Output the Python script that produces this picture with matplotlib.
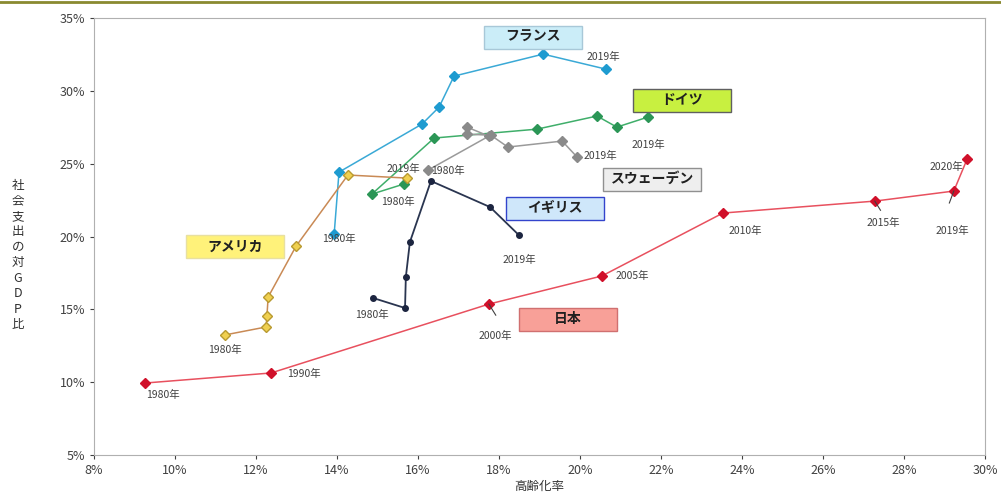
import matplotlib.pyplot as plt
from matplotlib.patches import Rectangle
from matplotlib.ticker import FuncFormatter

plt.rcParams['font.family'] = ['Noto Sans CJK JP', 'DejaVu Sans']

# 高齢化率 (x) / 社会支出の対GDP比 (y), in %
japan_x = [9.26, 12.37, 17.75, 20.54, 23.53, 27.28, 29.23, 29.56]
japan_y = [9.94, 10.63, 15.36, 17.29, 21.61, 22.43, 23.12, 25.32]

usa_x = [11.23, 12.25, 12.27, 12.30, 12.99, 14.27, 15.73]
usa_y = [13.24, 13.79, 14.54, 15.84, 19.34, 24.22, 24.01]

france_x = [13.93, 14.05, 16.10, 16.52, 16.89, 19.09, 20.64]
france_y = [20.17, 24.42, 27.72, 28.88, 31.01, 32.52, 31.49]

germany_x = [15.65, 14.86, 16.40, 18.94, 20.42, 20.91, 21.68]
germany_y = [23.60, 22.91, 26.76, 27.37, 28.27, 27.51, 28.20]

sweden_x = [16.25, 17.75, 17.21, 17.21, 17.80, 18.22, 19.56, 19.93]
sweden_y = [24.56, 26.89, 27.51, 27.03, 26.95, 26.14, 26.55, 25.45]

uk_x = [14.89, 15.68, 15.70, 15.80, 16.32, 17.78, 18.49]
uk_y = [15.78, 15.09, 17.22, 19.62, 23.81, 22.02, 20.10]

x_ticks = list(range(8, 31, 2))
y_ticks = list(range(5, 36, 5))

fig = plt.figure(figsize=(10.01, 5.0), dpi=100)
ax = fig.add_axes([0.0939, 0.09, 0.8901, 0.874])

# country lines
ax.plot(france_x, france_y, '-D', color='#3aa9d6', mfc='#1e9bd0', mec='#1e9bd0', ms=5, lw=1.1)
ax.plot(germany_x, germany_y, '-D', color='#3fae6a', mfc='#2b9656', mec='#2b9656', ms=5, lw=1.1)
ax.plot(sweden_x, sweden_y, '-D', color='#9a9a9a', mfc='#8a8a8a', mec='#8a8a8a', ms=5, lw=1.1)
ax.plot(uk_x, uk_y, '-o', color='#2a3550', mfc='#1c2540', mec='#1c2540', ms=4, lw=1.3)
ax.plot(usa_x, usa_y, '-D', color='#c98a55', mfc='#f0d050', mec='#b89a30', ms=5, lw=1.1)
ax.plot(japan_x, japan_y, '-D', color='#e8505e', mfc='#d0102a', mec='#d0102a', ms=5, lw=1.1)

ax.set_xlim(8, 30)
ax.set_ylim(5, 35)
ax.set_xticks(x_ticks)
ax.set_yticks(y_ticks)
pct = FuncFormatter(lambda v, p: '%d%%' % v)
ax.xaxis.set_major_formatter(pct)
ax.yaxis.set_major_formatter(pct)
ax.tick_params(labelsize=9, colors='#404040', length=3, direction='out')
for s in ax.spines.values():
    s.set_color('#b0b0b0')

ax.set_xlabel('高齢化率', fontsize=9, color='#303030', labelpad=2)
fig.text(0.018, 0.49, '\n'.join('社会支出の対GDP比'), fontsize=9, color='#303030',
         ha='center', va='center', linespacing=1.25)

# year labels
yr = dict(fontsize=7.5, color='#404040', ha='center', va='center')
def lab(x, y, t):
    ax.text(x, y, t, **yr)

lab(9.70, 9.15, '1980年')
lab(13.18, 10.55, '1990年')
lab(17.90, 13.2, '2000年')
lab(21.30, 17.3, '2005年')
lab(24.07, 20.4, '2010年')
lab(27.50, 20.95, '2015年')
lab(29.20, 20.35, '2019年')
lab(29.05, 24.75, '2020年')
lab(11.23, 12.2, '1980年')
lab(15.65, 24.65, '2019年')
lab(14.05, 19.8, '1980年')
lab(20.58, 32.3, '2019年')
lab(15.50, 22.35, '1980年')
lab(21.68, 26.3, '2019年')
lab(16.75, 24.5, '1980年')
lab(20.50, 25.5, '2019年')
lab(14.86, 14.6, '1980年')
lab(18.50, 18.4, '2019年')

# short leader lines from a few Japan labels to their points
for (x0, y0), (x1, y1) in [((17.75, 15.36), (17.92, 14.6)),
                           ((27.28, 22.43), (27.42, 21.8)),
                           ((29.23, 23.12), (29.12, 22.3))]:
    ax.plot([x0, x1], [y0, y1], color='#404040', lw=0.8)

# country name boxes
def box(x, y, t, fc, ec):
    w, h = 2.42, 1.58
    ax.add_patch(Rectangle((x - w / 2, y - h / 2), w, h, fc=fc, ec=ec, lw=1, zorder=4))
    ax.text(x, y, t, fontsize=10, fontweight='bold', color='#202020', ha='center', va='center',
            zorder=5)

box(18.84, 33.69, 'フランス', '#cbedf8', '#a8c8d8')
box(22.52, 29.37, 'ドイツ', '#c8f040', '#606060')
box(21.78, 23.94, 'スウェーデン', '#eeeeee', '#909090')
box(19.38, 21.95, 'イギリス', '#cfe7fa', '#3344cc')
box(11.48, 19.28, 'アメリカ', '#fff27a', '#e8e0a0')
box(19.70, 14.33, '日本', '#f8a098', '#d07070')

fig.add_artist(plt.Line2D([0, 1], [0.997, 0.997], transform=fig.transFigure, color='#8a8a30', lw=2))

fig.savefig('out.png', dpi=100)
